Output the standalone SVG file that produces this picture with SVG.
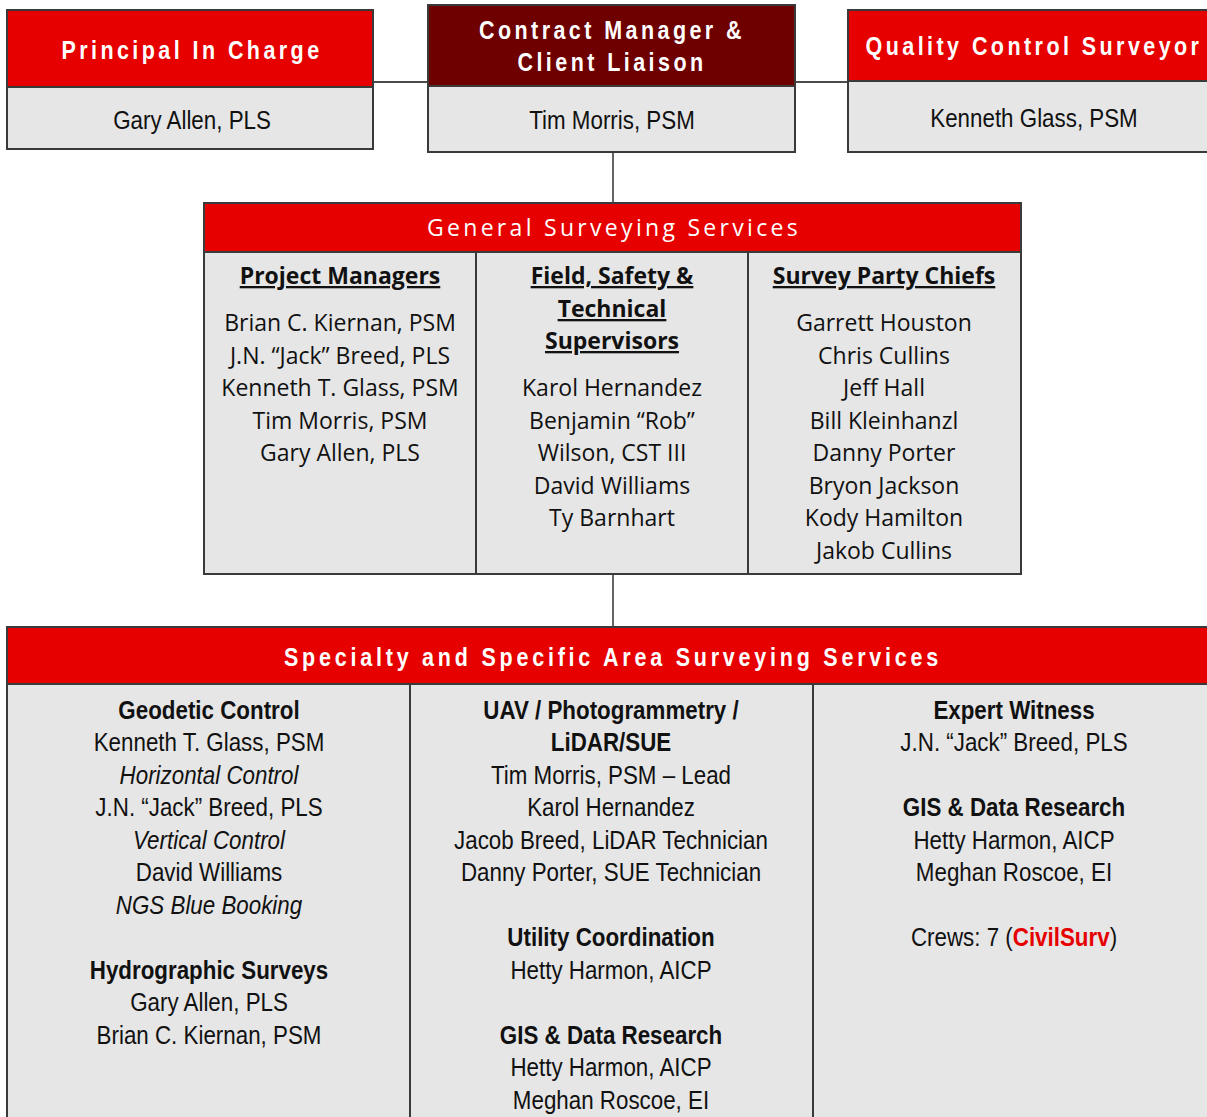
<svg xmlns="http://www.w3.org/2000/svg" width="1207" height="1117" viewBox="0 0 1207 1117">
<style>
.hdr{fill:#E60000;stroke:#3a3a3a;stroke-width:2}
.hdrd{fill:#6E0000;stroke:#3a3a3a;stroke-width:2}
.body{fill:#E6E6E6;stroke:#3a3a3a;stroke-width:2}
.ln{stroke:#111;stroke-width:1.3;fill:none}
.div{stroke:#3a3a3a;stroke-width:2}
.ht{font-family:"Liberation Sans",Arial,sans-serif;font-weight:bold;font-size:25px;fill:#fff;letter-spacing:4px;text-anchor:middle}
.nm{font-family:"Liberation Sans",Arial,sans-serif;font-size:26px;fill:#111;text-anchor:middle}
.gh{font-family:"Open Sans","Noto Sans",sans-serif;font-size:23px;fill:#fff;letter-spacing:3.3px;text-anchor:middle}
.gc{font-family:"Open Sans","Noto Sans",sans-serif;font-size:23px;fill:#111;text-anchor:middle}
.gb{font-weight:bold;text-decoration:underline}
.b{font-weight:bold}
.i{font-style:italic}
</style>
<g id="connectors">
<line class="ln" x1="373" y1="82" x2="428" y2="82"/>
<line class="ln" x1="795" y1="82" x2="848" y2="82"/>
<line class="ln" x1="613" y1="152" x2="613" y2="203"/>
<line class="ln" x1="613" y1="574" x2="613" y2="627"/>
</g>
<g id="principal">
<rect class="hdr" x="7" y="10" width="366" height="77"/>
<rect class="body" x="7" y="87" width="366" height="62"/>
<g transform="translate(192 0) scale(0.86 1)">
<text class="ht" x="0" y="59">Principal In Charge</text>
<text class="nm" x="0" y="129">Gary Allen, PLS</text>
</g>
</g>
<g id="contract-manager">
<rect class="hdrd" x="428" y="5" width="367" height="81"/>
<rect class="body" x="428" y="86" width="367" height="66"/>
<g transform="translate(612 0) scale(0.86 1)">
<text class="ht" x="0" y="39">Contract Manager &amp;</text>
<text class="ht" x="0" y="71">Client Liaison</text>
<text class="nm" x="0" y="129">Tim Morris, PSM</text>
</g>
</g>
<g id="quality-control">
<rect class="hdr" x="848" y="10" width="370" height="71"/>
<rect class="body" x="848" y="81" width="370" height="71"/>
<g transform="translate(1034 0) scale(0.86 1)">
<text class="ht" x="0" y="55">Quality Control Surveyor</text>
<text class="nm" x="0" y="127">Kenneth Glass, PSM</text>
</g>
</g>
<g id="general">
<rect class="hdr" x="204" y="203" width="817" height="49"/>
<rect class="body" x="204" y="252" width="817" height="322"/>
<line class="div" x1="476" y1="252" x2="476" y2="574"/>
<line class="div" x1="748" y1="252" x2="748" y2="574"/>
<text class="gh" x="614" y="236">General Surveying Services</text>
<text class="gc gb" x="340" y="284">Project Managers</text>
<text class="gc" x="340" y="331">Brian C. Kiernan, PSM</text>
<text class="gc" x="340" y="364">J.N. “Jack” Breed, PLS</text>
<text class="gc" x="340" y="396">Kenneth T. Glass, PSM</text>
<text class="gc" x="340" y="429">Tim Morris, PSM</text>
<text class="gc" x="340" y="461">Gary Allen, PLS</text>
<text class="gc gb" x="612" y="284">Field, Safety &amp;</text>
<text class="gc gb" x="612" y="317">Technical</text>
<text class="gc gb" x="612" y="349">Supervisors</text>
<text class="gc" x="612" y="396">Karol Hernandez</text>
<text class="gc" x="612" y="429">Benjamin “Rob”</text>
<text class="gc" x="612" y="461">Wilson, CST III</text>
<text class="gc" x="612" y="494">David Williams</text>
<text class="gc" x="612" y="526">Ty Barnhart</text>
<text class="gc gb" x="884" y="284">Survey Party Chiefs</text>
<text class="gc" x="884" y="331">Garrett Houston</text>
<text class="gc" x="884" y="364">Chris Cullins</text>
<text class="gc" x="884" y="396">Jeff Hall</text>
<text class="gc" x="884" y="429">Bill Kleinhanzl</text>
<text class="gc" x="884" y="461">Danny Porter</text>
<text class="gc" x="884" y="494">Bryon Jackson</text>
<text class="gc" x="884" y="526">Kody Hamilton</text>
<text class="gc" x="884" y="559">Jakob Cullins</text>
</g>
<g id="specialty">
<rect class="hdr" x="7" y="627" width="1211" height="57"/>
<rect class="body" x="7" y="684" width="1211" height="440"/>
<line class="div" x1="410" y1="684" x2="410" y2="1117"/>
<line class="div" x1="813" y1="684" x2="813" y2="1117"/>
<g transform="translate(613 0) scale(0.86 1)">
<text class="ht" x="0" y="666" style="letter-spacing:4.4px">Specialty and Specific Area Surveying Services</text>
</g>
<g transform="translate(209 0) scale(0.86 1)">
<text class="nm b" x="0" y="719">Geodetic Control</text>
<text class="nm" x="0" y="751">Kenneth T. Glass, PSM</text>
<text class="nm i" x="0" y="784">Horizontal Control</text>
<text class="nm" x="0" y="816">J.N. “Jack” Breed, PLS</text>
<text class="nm i" x="0" y="849">Vertical Control</text>
<text class="nm" x="0" y="881">David Williams</text>
<text class="nm i" x="0" y="914">NGS Blue Booking</text>
<text class="nm b" x="0" y="979">Hydrographic Surveys</text>
<text class="nm" x="0" y="1011">Gary Allen, PLS</text>
<text class="nm" x="0" y="1044">Brian C. Kiernan, PSM</text>
</g>
<g transform="translate(611 0) scale(0.86 1)">
<text class="nm b" x="0" y="719">UAV / Photogrammetry /</text>
<text class="nm b" x="0" y="751">LiDAR/SUE</text>
<text class="nm" x="0" y="784">Tim Morris, PSM – Lead</text>
<text class="nm" x="0" y="816">Karol Hernandez</text>
<text class="nm" x="0" y="849">Jacob Breed, LiDAR Technician</text>
<text class="nm" x="0" y="881">Danny Porter, SUE Technician</text>
<text class="nm b" x="0" y="946">Utility Coordination</text>
<text class="nm" x="0" y="979">Hetty Harmon, AICP</text>
<text class="nm b" x="0" y="1044">GIS &amp; Data Research</text>
<text class="nm" x="0" y="1076">Hetty Harmon, AICP</text>
<text class="nm" x="0" y="1109">Meghan Roscoe, EI</text>
</g>
<g transform="translate(1014 0) scale(0.86 1)">
<text class="nm b" x="0" y="719">Expert Witness</text>
<text class="nm" x="0" y="751">J.N. “Jack” Breed, PLS</text>
<text class="nm b" x="0" y="816">GIS &amp; Data Research</text>
<text class="nm" x="0" y="849">Hetty Harmon, AICP</text>
<text class="nm" x="0" y="881">Meghan Roscoe, EI</text>
<text class="nm" x="0" y="946">Crews: 7 (<tspan fill="#E60000" font-weight="bold">CivilSurv</tspan>)</text>
</g>
</g>
</svg>
